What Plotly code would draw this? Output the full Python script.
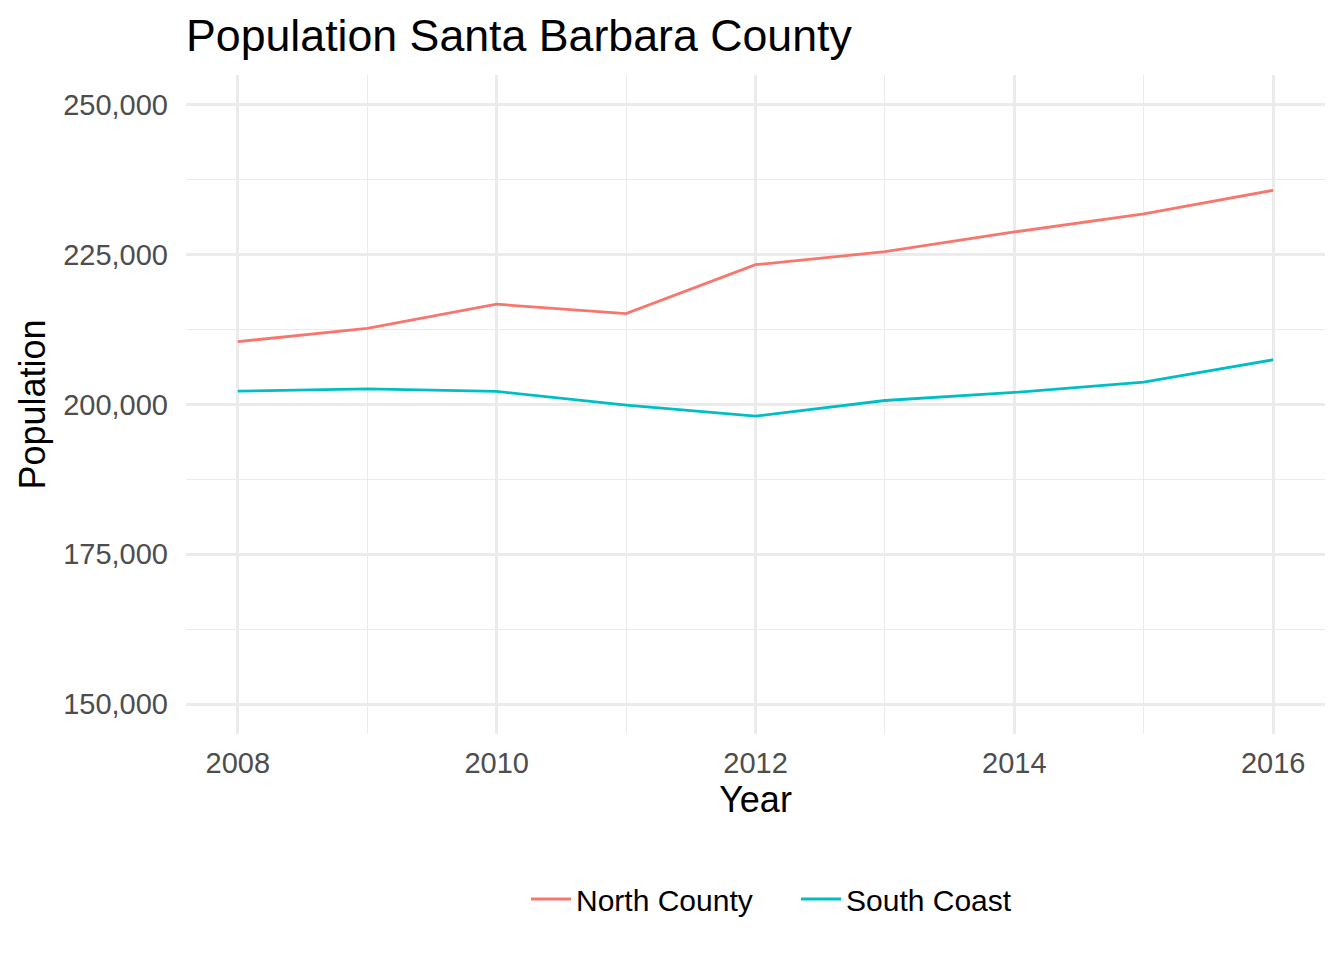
import plotly.graph_objects as go

years = [2008, 2009, 2010, 2011, 2012, 2013, 2014, 2015, 2016]
north_county = [210490, 212720, 216740, 215180, 223330, 225500, 228800, 231810, 235760]
south_coast = [202230, 202620, 202180, 199890, 198050, 200670, 202010, 203730, 207470]
series_names = ["North County", "South Coast"]
series_colors = ["#F8766D", "#00BFC4"]

FONT = "Liberation Sans, Arial, Helvetica, sans-serif"
W, H = 1344, 960

fig = go.Figure()
for name, vals, col in zip(series_names, [north_county, south_coast], series_colors):
    fig.add_trace(go.Scatter(x=years, y=vals, mode="lines", name=name,
                             line=dict(color=col, width=2.8)))

grid = "#EBEBEB"
fig.update_layout(
    width=W, height=H,
    paper_bgcolor="white", plot_bgcolor="white",
    margin=dict(l=186, r=19, t=75, b=226, pad=0),
    font=dict(family=FONT, color="black"),
    title=dict(text="Population Santa Barbara County", font=dict(size=44.7, color="black"),
               x=186 / W, xanchor="left", xref="container",
               y=1 - 35 / H, yanchor="middle", yref="container"),
    xaxis=dict(range=[2007.6, 2016.4], tick0=2008, dtick=2, tickformat="d",
               showgrid=True, gridcolor=grid, gridwidth=2.8, zeroline=False, showline=False,
               ticks="", ticklabelstandoff=9,
               tickfont=dict(size=29, color="#4D4D4D"),
               minor=dict(dtick=1, tick0=2008, showgrid=True, gridcolor=grid, gridwidth=1.4),
               title=dict(text="Year", font=dict(size=36, color="black"), standoff=6)),
    yaxis=dict(range=[145000, 255000], tick0=150000, dtick=25000, tickformat=",d",
               showgrid=True, gridcolor=grid, gridwidth=2.8, zeroline=False, showline=False,
               ticks="", ticklabelstandoff=17,
               tickfont=dict(size=29, color="#4D4D4D"),
               minor=dict(dtick=12500, tick0=150000, showgrid=True, gridcolor=grid, gridwidth=1.4),
               title=dict(text="Population", font=dict(size=36, color="black"), standoff=6)),
    legend=dict(orientation="h", xref="container", yref="container",
                x=526 / W, xanchor="left", y=1 - 899 / H, yanchor="middle",
                font=dict(size=30, color="black"), bgcolor="rgba(0,0,0,0)",
                itemwidth=40, entrywidth=215, tracegroupgap=0),
    showlegend=True,
)

fig.write_html("out.html")
